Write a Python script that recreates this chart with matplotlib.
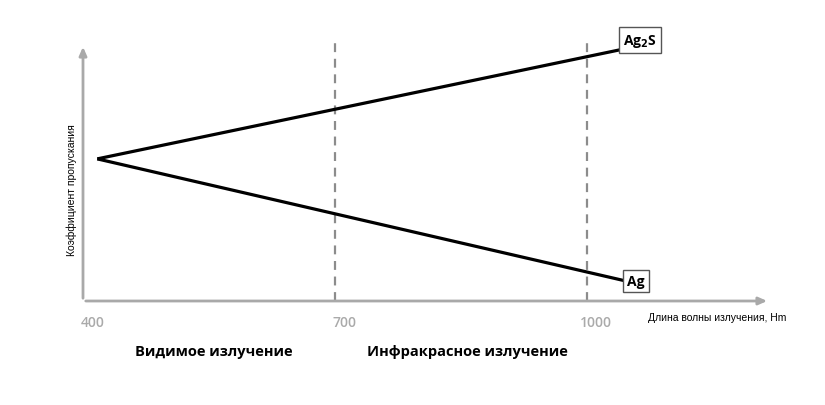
import matplotlib
matplotlib.use("Agg")
import matplotlib.pyplot as plt

# Data
wavelength_ticks = [400, 700, 1000]
tick_labels = ["400", "700", "1000"]
boundary_lines = [700, 1000]
ag2s_x = [417, 1043]
ag2s_y = [55.3, 98.0]
ag_x = [417, 1046]
ag_y = [55.3, 7.8]
series_labels = ["Ag$_\\mathbf{2}$S", "Ag"]
region_labels = ["Видимое излучение", "Инфракрасное излучение"]

fig = plt.figure(figsize=(8.25, 4.06), dpi=100)
ax = fig.add_axes([83/825, 1-302/406, (770-83)/825, (302-45)/406])
ax.set_xlim(400, 400 + 687/0.84)
ax.set_ylim(0, 100)
for s in ax.spines.values():
    s.set_visible(False)
ax.set_xticks([])
ax.set_yticks([])

axis_col = "#a9a9a9"
ax.annotate("", xy=(1.0, 0), xytext=(0, 0), xycoords="axes fraction",
            arrowprops=dict(arrowstyle="-|>,head_length=0.5,head_width=0.22", color=axis_col, lw=2))
ax.annotate("", xy=(0, 1.0), xytext=(0, 0), xycoords="axes fraction",
            arrowprops=dict(arrowstyle="-|>,head_length=0.5,head_width=0.22", color=axis_col, lw=2))

for b in boundary_lines:
    ax.plot([b, b], [0, 101], color="#8c8c8c", lw=1.6, ls=(0, (4, 3)), clip_on=False)

ax.plot(ag2s_x, ag2s_y, color="black", lw=2.3, solid_capstyle="butt")
ax.plot(ag_x, ag_y, color="black", lw=2.3, solid_capstyle="butt")

bbox = dict(boxstyle="square,pad=0.3", fc="white", ec="#555555", lw=1)
ax.text(ag2s_x[1], ag2s_y[1] + 3.5, series_labels[0], ha="left", va="center", fontsize=10,
        fontweight="bold", family=["Open Sans", "DejaVu Sans"], bbox=bbox)
ax.text(ag_x[1] + 2, ag_y[1], series_labels[1], ha="left", va="center", fontsize=10,
        fontweight="bold", family=["Open Sans", "DejaVu Sans"], bbox=bbox)

for t, lab in zip(wavelength_ticks, tick_labels):
    ax.text(t + 11, -8, lab, ha="center", va="center", fontsize=10, color="#aaaaaa",
            fontweight="semibold", family=["Open Sans", "DejaVu Sans"],
            transform=ax.transData, clip_on=False)

fig.text(648/825, 1-318/406, "Длина волны излучения, Hm", ha="left", va="center",
         fontsize=7.5, family=["Liberation Sans", "DejaVu Sans"])
fig.text(72/825, 1-190/406, "Коэффициент пропускания", ha="center", va="center",
         rotation=90, fontsize=7.5, family=["Liberation Sans", "DejaVu Sans"])

fig.text(214/825, 1-352/406, region_labels[0], ha="center", va="center",
         fontsize=10.5, fontweight="bold", family=["Open Sans", "DejaVu Sans"])
fig.text(467/825, 1-352/406, region_labels[1], ha="center", va="center",
         fontsize=10.5, fontweight="bold", family=["Open Sans", "DejaVu Sans"])

fig.savefig("out.png", dpi=100)
